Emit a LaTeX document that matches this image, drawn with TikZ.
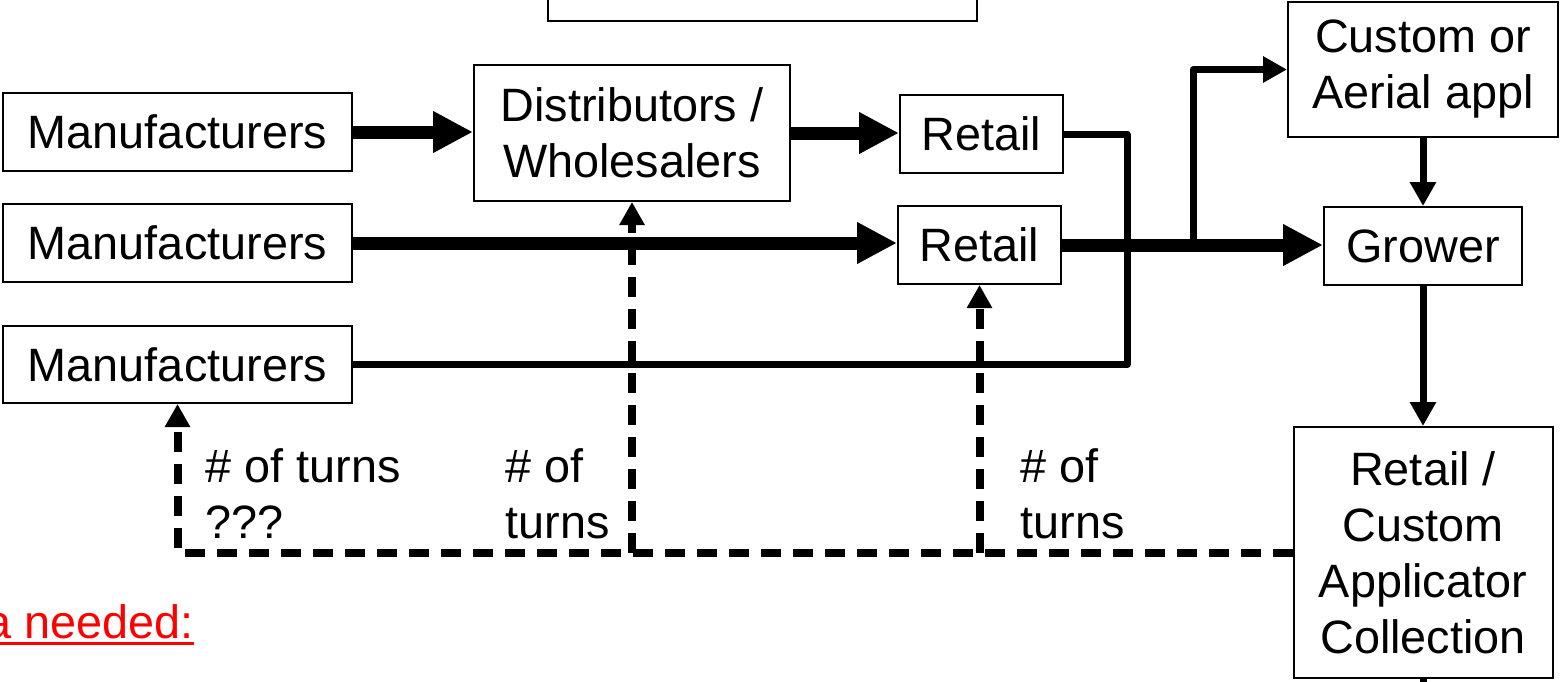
\documentclass[tikz,border=0pt]{standalone}
\usepackage{fontspec}
\setmainfont{Liberation Sans}
\usetikzlibrary{arrows.meta}
\begin{document}
\begin{tikzpicture}[x=0.5pt,y=-0.5pt,
  txt/.style={font=\fontsize{23.4}{28}\selectfont},
  box/.style={txt, draw, line width=1pt, inner sep=0pt, align=center},
  lbl/.style={txt, inner sep=0pt, align=left},
  fatarrow/.style={line width=6.5pt, -{Triangle[length=20pt,width=19.5pt]}},
  slimline/.style={line width=3.5pt, line join=round},
  slimarrow/.style={line width=3.5pt, line join=round, -{Triangle[length=12pt,width=12.5pt]}},
  dasharrow/.style={line width=4pt, dash pattern=on 10pt off 6pt, -{Triangle[length=11.5pt,width=12pt]}}
]
\useasboundingbox (0,0) rectangle (1560,681);
\clip (0,0) rectangle (1560,681);

% partially visible box at the top
\draw[line width=1pt] (548,-40) rectangle (977,21);

% boxes
\node[box, minimum width=174.5pt, minimum height=39pt] (m1) at (177.5,132) {Manufacturers};
\node[box, minimum width=174.5pt, minimum height=39pt] (m2) at (177.5,243) {Manufacturers};
\node[box, minimum width=174.5pt, minimum height=38.5pt] (m3) at (177.5,364.5) {Manufacturers};
\node[box, minimum width=158pt, minimum height=68pt] (dist) at (632,133) {Distributors /\\Wholesalers};
\node[box, minimum width=81.5pt, minimum height=39pt] (r1) at (981.5,134) {Retail};
\node[box, minimum width=81.5pt, minimum height=39pt] (r2) at (979.5,245) {Retail};
\node[box, minimum width=135pt, minimum height=67.5pt] (cust) at (1423,69.5) {Custom or\\Aerial appl};
\node[box, minimum width=99pt, minimum height=39pt] (grow) at (1423,246) {Grower};
\node[box, minimum width=129.5pt, minimum height=125.5pt] (rcac) at (1423,552.5) {Retail /\\Custom\\Applicator\\Collection};

% solid connectors
\draw[fatarrow] (m1.east) -- (m1.east -| dist.west);
\draw[fatarrow] (dist.east) -- (dist.east -| r1.west);
\draw[fatarrow] (m2.east) -- (m2.east -| r2.west);
\draw[fatarrow] (r2.east) -- (r2.east -| grow.west);
\coordinate (br) at (1193,245);
\draw[slimarrow] (br) |- (cust.west);
\coordinate (c1) at (1127,134);
\draw[slimline] (m3.east) -| (c1) -- (r1.east);
\draw[slimarrow] (cust.south) -- (grow.north);
\draw[slimarrow] (grow.south) -- (rcac.north);
\coordinate (tail) at (1423,700);
\draw[slimline] (rcac.south) -- (tail);

% dashed feedback connectors
\draw[dasharrow] (rcac.west) -| (m3.south);
\draw[dasharrow] (dist.south |- rcac.west) -- (dist.south);
\draw[dasharrow] (r2.south |- rcac.west) -- (r2.south);

% labels
\node[lbl, anchor=base west] (l1) at (205,538) {\# of turns\\???};
\node[lbl, anchor=base west] (l2) at (505,538) {\# of\\turns};
\node[lbl, anchor=base west] (l3) at (1020,538) {\# of\\turns};

% red heading, cut at the left edge
\node[txt, inner sep=0pt, anchor=base west, text=red] (need) at (-15,638) {a needed:};
\draw[red, line width=1.5pt] ([yshift=-2.5pt]need.base west) -- ([yshift=-2.5pt]need.base east);
\end{tikzpicture}
\end{document}
